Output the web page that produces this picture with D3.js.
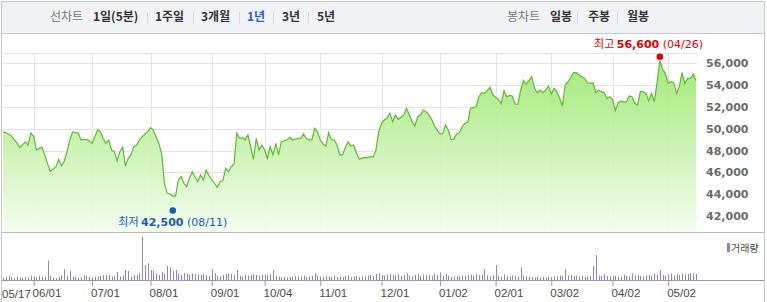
<!DOCTYPE html>
<html><head><meta charset="utf-8">
<script src="https://cdn.jsdelivr.net/npm/d3@7"></script>
<style>body{margin:0;background:#fff}svg{display:block}</style>
</head><body>
<svg id="c" width="767" height="302"></svg>
<script>
const tickLabels = ["05/17","06/01","07/01","08/01","09/01","10/04","11/01","12/01","01/02","02/01","03/02","04/02","05/02"];
const tickIndex = [0,11,32,53,75,94,114,136,157,177,197,219,239];
const priceTicks = [42000,44000,46000,48000,50000,52000,54000,56000];
const closePrices = [
49700,49650,49500,49350,49000,48700,48300,48500,48800,48500,
49600,49300,48050,48200,48300,47600,46800,46100,46300,46500,
47200,46600,47000,47900,48970,49700,49650,49600,49000,49000,
49000,48900,48650,49270,49900,49730,49100,48650,48970,48050,
47900,47070,47900,48300,46600,47290,47600,48350,48510,48970,
49270,49500,49730,50100,49880,49270,48650,47700,45000,44080,
44020,43830,43830,45300,45600,45000,44700,45460,46060,45550,
45150,45760,45300,46200,45700,45300,45000,44630,45150,45240,
46370,46060,46520,46770,49600,49120,49180,48970,49430,48350,
47200,49120,48050,48510,48050,47290,48350,47600,48660,47600,
48810,48900,48970,49210,48970,49060,49100,49120,49520,49100,
48970,49000,50040,49730,48970,48600,48420,49640,48970,48970,
48510,47600,47600,48300,48800,48420,48510,47750,47230,47290,
47380,47350,47440,47400,48050,49730,50500,50800,50960,51420,
50650,51260,50860,51050,51260,51870,51260,50650,50250,51100,
51260,51720,51560,51300,50860,50300,49880,49520,49580,50340,
49880,49030,49030,49520,49640,50190,50500,50600,51870,51930,
52020,52940,53300,53250,53500,53800,53090,52880,52700,52270,
53490,52940,53060,53000,52270,52240,53550,54440,54100,54440,
54770,53710,53300,53550,53300,53550,53920,53190,53710,53400,
52790,52090,54010,54310,54720,55140,55140,54930,54770,54620,
54220,54160,54220,53300,53550,53400,53300,52790,52940,52700,
51660,52390,52520,52450,52480,53000,52940,52330,52180,53400,
53400,53250,52570,53250,52480,54200,56240,55450,55080,54160,
54310,54220,53250,53860,55140,54160,54620,54620,55020,54400];
const volumes = [
250,350,400,300,200,350,250,200,300,250,
450,350,250,400,300,350,1930,400,250,200,
300,450,1070,400,900,350,300,250,300,450,
450,300,250,300,350,400,500,450,500,350,
400,800,350,450,1000,900,300,450,500,650,
4330,1500,1670,1000,930,600,500,800,650,1400,
1230,930,1000,600,500,700,650,550,650,600,
550,500,600,450,400,1100,700,400,350,500,
600,650,600,500,1000,400,350,550,450,500,
600,500,450,500,550,500,600,970,400,350,
300,300,250,300,350,400,350,400,450,300,
350,400,670,400,350,300,400,350,300,450,
300,350,300,400,450,300,350,400,300,350,
400,450,500,400,600,650,500,450,550,600,
500,450,600,400,500,650,400,350,500,600,
400,550,450,500,400,650,500,770,400,600,
450,300,350,400,350,450,400,500,550,450,
600,500,550,1100,450,400,500,1500,450,350,
550,400,350,450,400,350,1270,450,400,350,
300,250,300,250,300,250,350,300,350,400,
450,400,1100,450,500,400,450,350,400,300,
350,400,1400,2500,450,400,550,400,350,450,
400,300,350,500,400,350,650,450,500,400,
350,450,500,400,650,550,1000,500,450,550,
650,450,600,500,650,550,600,700,650,600];
const maxIndex = 236, maxValue = 56600, maxDate = "04/26";
const minIndex = 61, minValue = 42500, minDate = "08/11";
const leftMenu = ["1일(5분)","1주일","3개월","1년","3년","5년"];
const rightMenu = ["일봉","주봉","월봉"];

const svg = d3.select("#c");
const KR = "'Noto Sans CJK KR', sans-serif";
const NUM = "'DejaVu Sans', 'Noto Sans CJK KR', sans-serif";
const AX = "'Liberation Sans', Arial, sans-serif";

const x = d3.scaleLinear().domain([0, closePrices.length - 1]).range([3, 696]);
const y = d3.scaleLinear().domain([42000, 56000]).range([216, 63.3]);
const yv = d3.scaleLinear().domain([0, 4800]).range([280, 232]);
const plotTop = 53, plotBottom = 232, plotRight = 697;

// toolbar
svg.append("rect").attr("x",1.5).attr("y",1.5).attr("width",763).attr("height",32)
  .attr("fill","#f1f2f6").attr("stroke","#c8c8cc");
svg.append("line").attr("x1",1.5).attr("x2",1.5).attr("y1",33).attr("y2",302).attr("stroke","#c8c8cc");
svg.append("line").attr("x1",764.5).attr("x2",764.5).attr("y1",33).attr("y2",302).attr("stroke","#c8c8cc");

const tb = svg.append("g").attr("font-family", KR).attr("font-size", 12);
tb.append("text").attr("x",50).attr("y",21).attr("fill","#777").text("선차트");
const lx = [93,155,201,247,282,317];
leftMenu.forEach((t,i)=>{
  tb.append("text").attr("x",lx[i]).attr("y",21).attr("font-weight","bold")
    .attr("fill", t==="1년" ? "#2f5db8" : "#333").text(t);
});
[147,193,239,273,308,577,617].forEach(sx=>{
  tb.append("line").attr("x1",sx+0.5).attr("x2",sx+0.5).attr("y1",12).attr("y2",24).attr("stroke","#d8d8dc");
});
tb.append("text").attr("x",507).attr("y",21).attr("fill","#777").text("봉차트");
const rx = [550,588,627];
rightMenu.forEach((t,i)=>{
  tb.append("text").attr("x",rx[i]).attr("y",21).attr("font-weight","bold").attr("fill","#333").text(t);
});

// gradient
const defs = svg.append("defs");
const grad = defs.append("linearGradient").attr("id","g").attr("gradientUnits","userSpaceOnUse")
  .attr("x1",0).attr("x2",0).attr("y1",plotTop).attr("y2",plotBottom);
grad.append("stop").attr("offset","0").attr("stop-color","#98e668");
grad.append("stop").attr("offset","1").attr("stop-color","#f3fdee");

// grid
const grid = svg.append("g").attr("stroke","#e3e3e3").attr("shape-rendering","crispEdges");
grid.append("line").attr("x1",3).attr("x2",plotRight).attr("y1",plotTop).attr("y2",plotTop);
priceTicks.forEach(v=>{
  grid.append("line").attr("x1",3).attr("x2",plotRight).attr("y1",Math.round(y(v))+0.5).attr("y2",Math.round(y(v))+0.5);
});
tickIndex.slice(1).forEach(i=>{
  grid.append("line").attr("x1",Math.round(x(i))+0.5).attr("x2",Math.round(x(i))+0.5).attr("y1",plotTop).attr("y2",plotBottom);
});

// area + line
const area = d3.area().x((d,i)=>x(i)).y0(plotBottom).y1(d=>y(d));
svg.append("path").datum(closePrices).attr("d",area).attr("fill","url(#g)").attr("opacity",0.92);
const line = d3.line().x((d,i)=>x(i)).y(d=>y(d));
svg.append("path").datum(closePrices).attr("d",line).attr("fill","none").attr("stroke","#5fb832").attr("stroke-width",1.2);

// separators
svg.append("line").attr("x1",2).attr("x2",764).attr("y1",plotBottom+0.5).attr("y2",plotBottom+0.5).attr("stroke","#b8b8b8");
svg.append("line").attr("x1",2).attr("x2",764).attr("y1",280.5).attr("y2",280.5).attr("stroke","#9a9a9a");

// right axis
const ya = svg.append("g").attr("transform",`translate(${plotRight},0)`)
  .call(d3.axisRight(y).tickValues(priceTicks).tickFormat(d3.format(",")).tickSize(0).tickPadding(9));
ya.select(".domain").remove();
ya.selectAll("text").attr("font-family",NUM).attr("font-size",11).attr("font-weight","bold").attr("fill","#6a6a6a");

// volume bars
svg.append("g").selectAll("rect").data(volumes).join("rect")
  .attr("x",(d,i)=>Math.round(x(i))).attr("width",1)
  .attr("y",d=>yv(d)).attr("height",d=>280-yv(d)).attr("fill","#9080c6");

// bottom axis
const xa = svg.append("g").attr("transform","translate(0,280)")
  .call(d3.axisBottom(x).tickValues(tickIndex.slice(1)).tickFormat((d,i)=>tickLabels[i+1]).tickSize(6).tickPadding(3));
xa.select(".domain").remove();
xa.selectAll("line").attr("stroke","#999");
xa.selectAll("text").attr("font-family",AX).attr("font-size",11.5).attr("fill","#4a4a4a")
  .attr("text-anchor","start").attr("x",-1.5);
svg.append("text").attr("x",2).attr("y",298).attr("font-family",AX)
  .attr("font-size",11.5).attr("fill","#4a4a4a").text(tickLabels[0]);

// volume legend
svg.append("rect").attr("x",727).attr("y",243).attr("width",3).attr("height",9).attr("fill","#8f82c2");
svg.append("text").attr("x",731).attr("y",251.5).attr("font-family",KR).attr("font-size",10).attr("fill","#444").text("거래량");

// annotations
function annot(idx, val, label, date, color, dy, maxRight){
  svg.append("circle").attr("cx",x(idx)).attr("cy",y(val)).attr("r",3.3).attr("fill",color);
  const t = svg.append("text").attr("y",y(val)+dy).attr("font-family",NUM).attr("font-size",11).attr("fill",color);
  t.append("tspan").attr("font-family",KR).text(label+" ");
  t.append("tspan").attr("font-weight","bold").text(d3.format(",")(val));
  t.append("tspan").text(" ("+date+")");
  const w = t.node().getComputedTextLength();
  let left = x(idx) - w/2;
  if (left + w > maxRight) left = maxRight - w;
  t.attr("x", left);
}
annot(maxIndex, maxValue, "최고", maxDate, "#e00000", -8.5, 703);
annot(minIndex, minValue, "최저", minDate, "#1a5cb0", 15, 760);
</script>
</body></html>
